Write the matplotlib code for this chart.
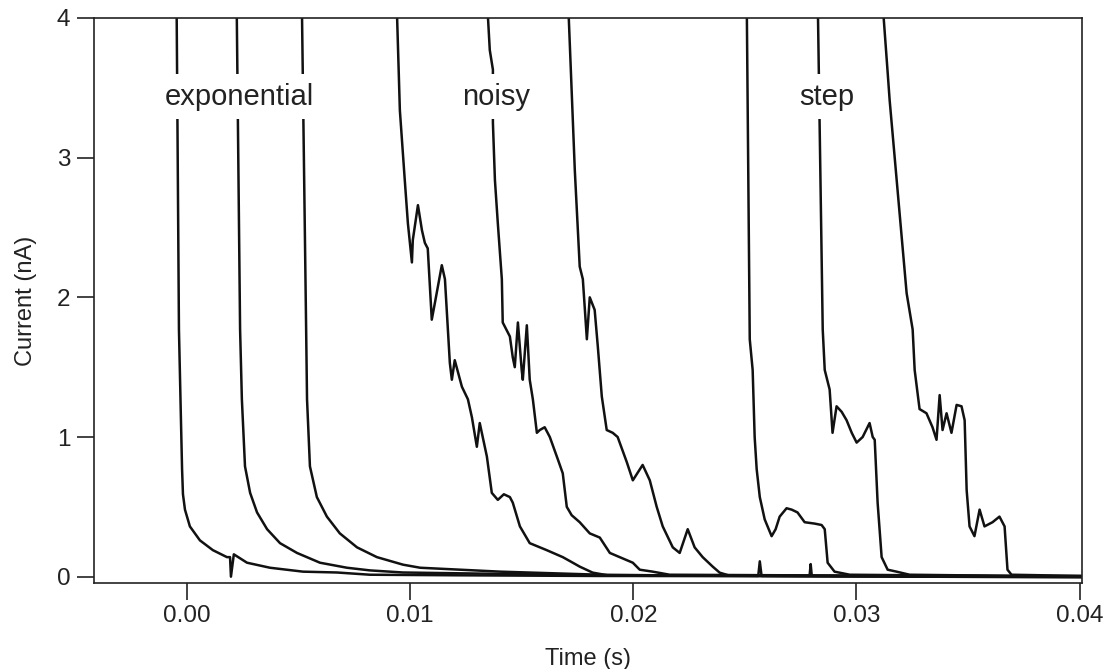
import matplotlib
matplotlib.use("Agg")
import matplotlib.pyplot as plt

plt.rcParams["font.family"] = ["Liberation Sans", "DejaVu Sans"]

# traces: time (s), current (nA)
exp1_t = [-0.00047, -0.00036, -0.00027, -0.00022, -0.00018, -0.00009, 0.00013, 0.00058,
          0.00116, 0.00179, 0.00193, 0.00197, 0.0021, 0.00269, 0.00372, 0.0052,
          0.00672, 0.0082, 0.012, 0.01852, 0.0256, 0.02567, 0.02575, 0.0279,
          0.02795, 0.028, 0.0401]
exp1_i = [4.2, 1.77, 1.12, 0.77, 0.59, 0.48, 0.36, 0.26,
          0.19, 0.14, 0.14, 0.0, 0.16, 0.10, 0.064, 0.036,
          0.03, 0.014, 0.01, 0.005, 0.005, 0.11, 0.005, 0.005,
          0.09, 0.005, 0.005]

exp2_t = [0.00222, 0.00238, 0.00246, 0.0026, 0.00283, 0.00314, 0.00359, 0.00417,
          0.00493, 0.00596, 0.00717, 0.0082, 0.00968, 0.01404, 0.01852, 0.0401]
exp2_i = [4.2, 1.77, 1.27, 0.79, 0.60, 0.46, 0.34, 0.24,
          0.17, 0.10, 0.064, 0.045, 0.03, 0.02, 0.01, 0.0]

exp3_t = [0.00514, 0.00534, 0.00538, 0.00551, 0.00582, 0.00627, 0.00685, 0.00762,
          0.00851, 0.00968, 0.01045, 0.01404, 0.01852, 0.023, 0.0401]
exp3_i = [4.2, 1.77, 1.27, 0.79, 0.57, 0.43, 0.31, 0.21,
          0.14, 0.086, 0.064, 0.036, 0.014, 0.007, -0.005]

noisy1_t = [0.00938, 0.00954, 0.00976, 0.0099, 0.01008, 0.01012, 0.01035, 0.01053,
            0.01066, 0.01079, 0.01097, 0.01111, 0.01142, 0.01156, 0.01178, 0.01187,
            0.012, 0.01232, 0.01259, 0.01277, 0.01299, 0.01312, 0.01344, 0.01366,
            0.01393, 0.0142, 0.01447, 0.0146, 0.01492, 0.01536, 0.01612, 0.01684,
            0.01729, 0.0176, 0.01818, 0.01895, 0.0401]
noisy1_i = [4.2, 3.34, 2.84, 2.53, 2.25, 2.41, 2.66, 2.48,
            2.39, 2.35, 1.84, 1.96, 2.23, 2.13, 1.53, 1.41,
            1.55, 1.36, 1.27, 1.14, 0.93, 1.10, 0.86, 0.60,
            0.55, 0.59, 0.57, 0.53, 0.36, 0.24, 0.19, 0.14,
            0.10, 0.072, 0.029, 0.007, 0.0]

noisy2_t = [0.01342, 0.01357, 0.01371, 0.01371, 0.0138, 0.01393, 0.01411, 0.01415,
            0.01447, 0.0146, 0.01469, 0.01483, 0.015, 0.01505, 0.01523, 0.01536,
            0.0155, 0.01568, 0.01581, 0.01603, 0.01626, 0.01662, 0.01684, 0.01702,
            0.01724, 0.0176, 0.01805, 0.0185, 0.01895, 0.01939, 0.01998, 0.02029,
            0.02087, 0.02163, 0.0401]
noisy2_i = [4.2, 3.77, 3.63, 3.25, 2.84, 2.53, 2.13, 1.82,
            1.72, 1.57, 1.50, 1.82, 1.48, 1.41, 1.80, 1.41,
            1.27, 1.03, 1.05, 1.07, 1.00, 0.84, 0.74, 0.50,
            0.44, 0.39, 0.31, 0.28, 0.17, 0.14, 0.10, 0.05,
            0.036, 0.014, 0.0]

noisy3_t = [0.01706, 0.01738, 0.0176, 0.01774, 0.01792, 0.01805, 0.01827, 0.01841,
            0.01859, 0.01881, 0.01908, 0.0193, 0.01971, 0.01998, 0.02042, 0.02074,
            0.02105, 0.02132, 0.02177, 0.02208, 0.02244, 0.02275, 0.02311, 0.02356,
            0.02387, 0.02432, 0.0401]
noisy3_i = [4.2, 2.91, 2.22, 2.13, 1.70, 2.0, 1.91, 1.65,
            1.29, 1.05, 1.03, 1.00, 0.82, 0.69, 0.80, 0.69,
            0.50, 0.36, 0.21, 0.17, 0.34, 0.21, 0.14, 0.072,
            0.029, 0.007, 0.0]

step1_t = [0.02508, 0.02522, 0.02535, 0.02544, 0.02553, 0.02567, 0.02589, 0.0262,
           0.02638, 0.02656, 0.02687, 0.0271, 0.02736, 0.02768, 0.02813, 0.02844,
           0.02858, 0.02871, 0.02902, 0.0297, 0.0401]
step1_i = [4.2, 1.70, 1.48, 1.0, 0.77, 0.57, 0.41, 0.29,
           0.34, 0.43, 0.49, 0.48, 0.46, 0.39, 0.38, 0.37,
           0.34, 0.10, 0.036, 0.014, 0.0]

step2_t = [0.02826, 0.02835, 0.02849, 0.02858, 0.0288, 0.02893, 0.02911, 0.02934,
           0.02956, 0.02979, 0.03001, 0.03028, 0.03059, 0.03073, 0.03082, 0.03095,
           0.03113, 0.0314, 0.0318, 0.03238, 0.0401]
step2_i = [4.2, 3.25, 1.77, 1.48, 1.34, 1.03, 1.22, 1.18,
           1.12, 1.03, 0.96, 1.00, 1.10, 1.00, 0.98, 0.53,
           0.14, 0.05, 0.036, 0.014, 0.0]

step3_t = [0.03113, 0.0314, 0.03149, 0.03225, 0.03252, 0.03261, 0.03283, 0.03314,
           0.03341, 0.03359, 0.03373, 0.03386, 0.03404, 0.03426, 0.03449, 0.03471,
           0.03485, 0.03494, 0.03507, 0.03529, 0.03552, 0.03574, 0.0361, 0.03641,
           0.03664, 0.03677, 0.03695, 0.0401]
step3_i = [4.2, 3.61, 3.41, 2.03, 1.77, 1.48, 1.20, 1.17,
           1.07, 0.98, 1.30, 1.05, 1.17, 1.03, 1.23, 1.22,
           1.12, 0.62, 0.36, 0.29, 0.48, 0.36, 0.39, 0.43,
           0.36, 0.05, 0.014, 0.005]

traces = [
    (exp1_t, exp1_i), (exp2_t, exp2_i), (exp3_t, exp3_i),
    (noisy1_t, noisy1_i), (noisy2_t, noisy2_i), (noisy3_t, noisy3_i),
    (step1_t, step1_i), (step2_t, step2_i), (step3_t, step3_i),
]

labels = ["exponential", "noisy", "step"]
label_t = [0.00237, 0.01384, 0.02867]
label_i = [3.435, 3.435, 3.435]

fig = plt.figure(figsize=(11.05, 6.69), dpi=100)
ax = fig.add_axes([0.085, 0.1286, 0.894, 0.8445])

for t, i in traces:
    ax.plot(t, i, color="#111111", lw=1.8, solid_joinstyle="round")

for name, x, y in zip(labels, label_t, label_i):
    ax.text(x, y, name, ha="center", va="center", fontsize=21, color="#222222",
            zorder=5, bbox=dict(facecolor="white", edgecolor="none", pad=6))

ax.set_xlim(-0.00417, 0.0401)
ax.set_ylim(-0.045, 4.0)
ax.set_xticks([0.0, 0.01, 0.02, 0.03, 0.04])
ax.set_xticklabels(["0.00", "0.01", "0.02", "0.03", "0.04"])
ax.set_yticks([0, 1, 2, 3, 4])

ax.tick_params(direction="out", length=12, width=1.2, labelsize=17.5, colors="#222222")
ax.tick_params(axis="x", pad=4)
ax.tick_params(axis="y", pad=5)
for s in ax.spines.values():
    s.set_linewidth(1.2)
    s.set_color("#222222")

ax.set_xlabel("Time (s)", fontsize=17, color="#222222", labelpad=15)
ax.set_ylabel("Current (nA)", fontsize=17, color="#222222", labelpad=14)

fig.savefig("out.png", dpi=100)
